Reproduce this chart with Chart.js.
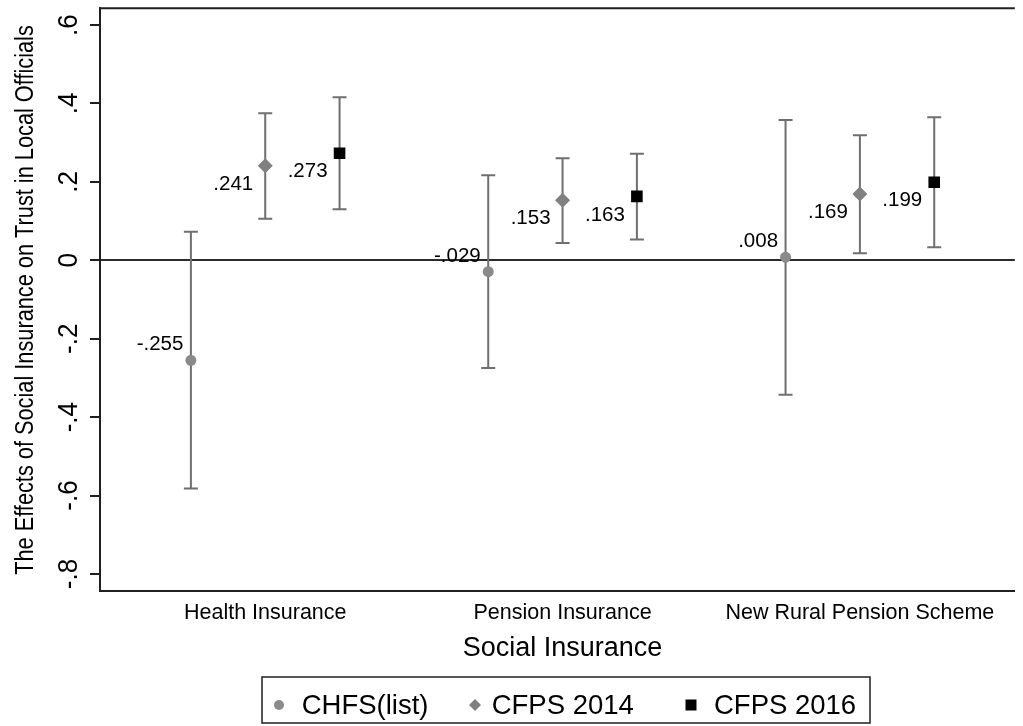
<!DOCTYPE html>
<html>
<head>
<meta charset="utf-8">
<script src="https://cdn.jsdelivr.net/npm/chart.js@4/dist/chart.umd.min.js"></script>
<style>
  html, body { margin: 0; padding: 0; background: #ffffff; }
  #wrap { width: 1023px; height: 726px; }
</style>
</head>
<body>
<div id="wrap"><canvas id="cv" width="1023" height="726"></canvas></div>
<script>
// Categories of social insurance (x positions 1, 2, 3)
const categories = ['Health Insurance', 'Pension Insurance', 'New Rural Pension Scheme'];
const seriesNames = ['CHFS(list)', 'CFPS 2014', 'CFPS 2016'];

// Point estimates and 95% confidence bounds per category
const chfsCoef = [-0.255, -0.029, 0.008];
const chfsLow  = [-0.582, -0.275, -0.343];
const chfsHigh = [0.073, 0.217, 0.358];

const cfps14Coef = [0.241, 0.153, 0.169];
const cfps14Low  = [0.106, 0.044, 0.018];
const cfps14High = [0.375, 0.260, 0.319];

const cfps16Coef = [0.273, 0.163, 0.199];
const cfps16Low  = [0.130, 0.053, 0.033];
const cfps16High = [0.416, 0.272, 0.365];

// Y axis ticks and their labels
const yTickValues = [-0.8, -0.6, -0.4, -0.2, 0, 0.2, 0.4, 0.6];
const yTickLabels = ['-.8', '-.6', '-.4', '-.2', '0', '.2', '.4', '.6'];

const FONT = "'Liberation Sans', Arial, Helvetica, sans-serif";
const BAR_COLOR = '#6f6f6f';
const AXIS_COLOR = '#1f1f1f';

// Horizontal offset of each series inside a category group
const groupOffsets = [-0.25, 0, 0.25];

function fmt(v) {
  const s = Math.abs(v).toFixed(3).replace(/^0/, '');
  return (v < 0 ? '-' : '') + s;
}

function toPoints(coefs, k) {
  return coefs.map((c, i) => ({ x: i + 1 + groupOffsets[k], y: c }));
}

const seriesStats = [
  { coef: chfsCoef, low: chfsLow, high: chfsHigh, labelDx: -7.5, labelDy: -15.5 },
  { coef: cfps14Coef, low: cfps14Low, high: cfps14High, labelDx: -12, labelDy: 18.5 },
  { coef: cfps16Coef, low: cfps16Low, high: cfps16High, labelDx: -12, labelDy: 18.5 }
];

const coefPlot = {
  id: 'coefPlot',
  beforeDatasetsDraw(chart) {
    const { ctx, chartArea: a, scales: { x, y } } = chart;
    ctx.save();
    // frame line along the top of the plot region
    ctx.strokeStyle = AXIS_COLOR;
    ctx.lineWidth = 2;
    ctx.beginPath();
    ctx.moveTo(a.left, a.top);
    ctx.lineTo(a.right, a.top);
    ctx.stroke();
    // confidence interval whiskers with caps
    ctx.strokeStyle = BAR_COLOR;
    ctx.lineWidth = 2;
    seriesStats.forEach((s, k) => {
      s.coef.forEach((c, i) => {
        const px = x.getPixelForValue(i + 1 + groupOffsets[k]);
        const lo = y.getPixelForValue(s.low[i]);
        const hi = y.getPixelForValue(s.high[i]);
        ctx.beginPath();
        ctx.moveTo(px, lo); ctx.lineTo(px, hi);
        ctx.moveTo(px - 7, lo); ctx.lineTo(px + 7, lo);
        ctx.moveTo(px - 7, hi); ctx.lineTo(px + 7, hi);
        ctx.stroke();
      });
    });
    ctx.restore();
  },
  afterDatasetsDraw(chart) {
    const { ctx, scales: { x, y } } = chart;
    ctx.save();
    ctx.fillStyle = '#000';
    ctx.font = '20.5px ' + FONT;
    ctx.textAlign = 'right';
    ctx.textBaseline = 'middle';
    seriesStats.forEach((s, k) => {
      s.coef.forEach((c, i) => {
        const px = x.getPixelForValue(i + 1 + groupOffsets[k]);
        const py = y.getPixelForValue(c);
        ctx.fillText(fmt(c), px + s.labelDx, py + s.labelDy);
      });
    });
    ctx.restore();
  },
  afterDraw(chart) {
    const { ctx, scales: { x, y } } = chart;
    ctx.save();
    ctx.fillStyle = '#000';
    // vertical y tick labels
    y.ticks.forEach((t) => {
      const idx = yTickValues.indexOf(t.value);
      if (idx < 0) return;
      ctx.save();
      ctx.translate(77.3, y.getPixelForValue(t.value));
      ctx.rotate(-Math.PI / 2);
      ctx.scale(0.93, 1);
      ctx.font = '28px ' + FONT;
      ctx.textAlign = 'center';
      ctx.textBaseline = 'alphabetic';
      ctx.fillText(yTickLabels[idx], 0, 0);
      ctx.restore();
    });
    // y axis title
    ctx.save();
    ctx.translate(33, 300);
    ctx.rotate(-Math.PI / 2);
    ctx.scale(0.87, 1);
    ctx.font = '25px ' + FONT;
    ctx.textAlign = 'center';
    ctx.textBaseline = 'alphabetic';
    ctx.fillText('The Effects of Social Insurance on Trust in Local Officials', 0, 0);
    ctx.restore();
    // x axis title
    ctx.font = '27px ' + FONT;
    ctx.textAlign = 'center';
    ctx.textBaseline = 'alphabetic';
    ctx.fillText('Social Insurance', x.getPixelForValue(2), 656);
    // legend box
    ctx.strokeStyle = AXIS_COLOR;
    ctx.lineWidth = 1.5;
    ctx.strokeRect(262, 677, 608, 46);
    const legendItems = [
      { marker: 'circle', color: '#8a8a8a', mx: 279, tx: 301.7, r: 5 },
      { marker: 'diamond', color: '#808080', mx: 475, tx: 491.7, r: 6 },
      { marker: 'square', color: '#000000', mx: 691, tx: 714, r: 5.5 }
    ];
    legendItems.forEach((it, k) => {
      const my = 705;
      ctx.fillStyle = it.color;
      ctx.beginPath();
      if (it.marker === 'circle') {
        ctx.arc(it.mx, my, it.r, 0, Math.PI * 2);
      } else if (it.marker === 'diamond') {
        ctx.moveTo(it.mx, my - it.r); ctx.lineTo(it.mx + it.r, my);
        ctx.lineTo(it.mx, my + it.r); ctx.lineTo(it.mx - it.r, my);
        ctx.closePath();
      } else {
        ctx.rect(it.mx - it.r, my - it.r, it.r * 2, it.r * 2);
      }
      ctx.fill();
      ctx.fillStyle = '#000';
      ctx.font = '27.5px ' + FONT;
      ctx.textAlign = 'left';
      ctx.fillText(seriesNames[k], it.tx, 714.3);
    });
    ctx.restore();
  }
};

new Chart(document.getElementById('cv'), {
  type: 'scatter',
  data: {
    datasets: [
      { label: seriesNames[0], data: toPoints(chfsCoef, 0), pointStyle: 'circle', pointRadius: 5.5,
        backgroundColor: '#8a8a8a', borderWidth: 0 },
      { label: seriesNames[1], data: toPoints(cfps14Coef, 1), pointStyle: 'rectRot', pointRadius: 7.5,
        backgroundColor: '#808080', borderWidth: 0 },
      { label: seriesNames[2], data: toPoints(cfps16Coef, 2), pointStyle: 'rect', pointRadius: 8.2,
        backgroundColor: '#000000', borderWidth: 0 }
    ]
  },
  options: {
    responsive: false,
    animation: false,
    devicePixelRatio: 1,
    layout: { padding: { left: 90, top: 6, right: 0, bottom: 91 } },
    plugins: { legend: { display: false }, tooltip: { enabled: false } },
    scales: {
      x: {
        type: 'linear',
        min: 0.4443,
        max: 3.521,
        afterBuildTicks: (scale) => { scale.ticks = categories.map((c, i) => ({ value: i + 1 })); },
        grid: { display: false, drawTicks: false, tickLength: 0 },
        border: { display: true, color: AXIS_COLOR, width: 2 },
        ticks: {
          padding: 9,
          color: '#000',
          font: { family: FONT, size: 21.5 },
          maxRotation: 0,
          autoSkip: false,
          callback: (v) => categories[Math.round(v) - 1] || ''
        }
      },
      y: {
        type: 'linear',
        min: -0.844,
        max: 0.643,
        afterBuildTicks: (scale) => { scale.ticks = yTickValues.map((v) => ({ value: v })); },
        grid: {
          display: true,
          drawOnChartArea: true,
          drawTicks: true,
          tickLength: 10,
          tickWidth: 2,
          tickColor: AXIS_COLOR,
          lineWidth: 2,
          color: (c) => (c.tick && c.tick.value === 0 ? '#2b2b2b' : 'rgba(0,0,0,0)')
        },
        border: { display: true, color: AXIS_COLOR, width: 2 },
        ticks: { display: false }
      }
    }
  },
  plugins: [coefPlot]
});
</script>
</body>
</html>
